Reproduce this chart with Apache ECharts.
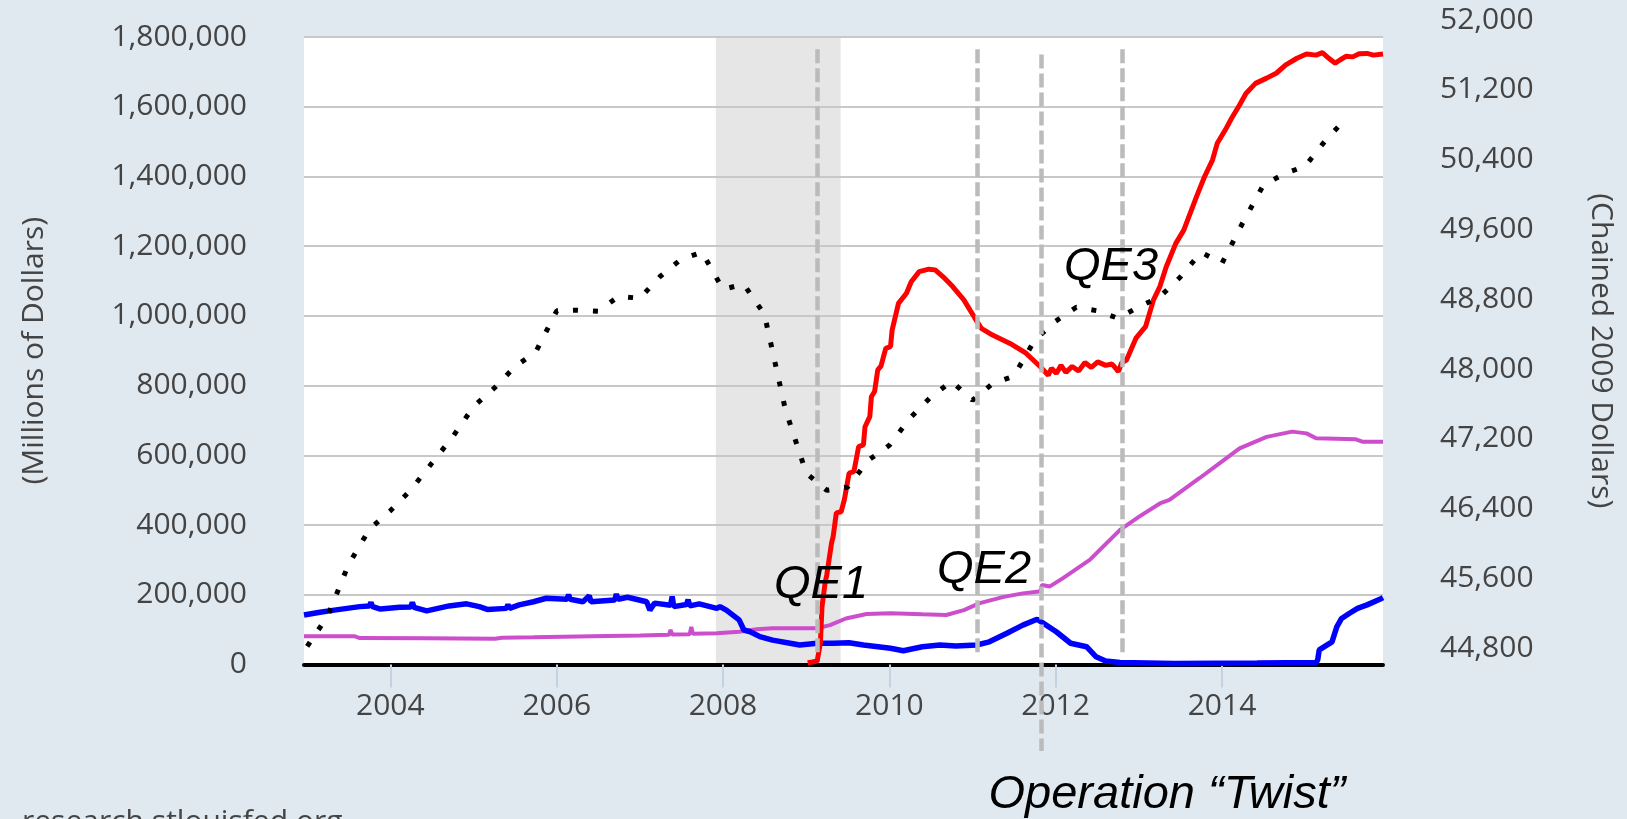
<!DOCTYPE html>
<html>
<head>
<meta charset="utf-8">
<script src="https://cdn.jsdelivr.net/npm/echarts@6/dist/echarts.min.js"></script>
<style>
html,body{margin:0;padding:0;background:#e1e9f0;}
#chart{width:1627px;height:819px;}
</style>
</head>
<body>
<div id="chart"></div>
<script>
// ---------- DATA ----------
const xTickLabels = ['2004', '2006', '2008', '2010', '2012', '2014'];
const leftTicks = [0, 200000, 400000, 600000, 800000, 1000000, 1200000, 1400000, 1600000, 1800000];
const rightTicks = [44800, 45600, 46400, 47200, 48000, 48800, 49600, 50400, 51200, 52000];

// Red series (Millions of Dollars, weekly)
const redSeries = [
  ['2009-01-07', 5000], ['2009-01-28', 7000], ['2009-02-18', 10000], ['2009-03-04', 62000],
  ['2009-03-11', 165000], ['2009-03-25', 236000], ['2009-04-01', 257000], ['2009-04-08', 262000],
  ['2009-04-22', 348000], ['2009-04-29', 367000], ['2009-05-06', 370000], ['2009-05-13', 435000],
  ['2009-06-03', 438000], ['2009-06-17', 472000], ['2009-07-08', 549000], ['2009-07-29', 553000],
  ['2009-08-19', 625000], ['2009-09-09', 630000], ['2009-09-16', 682000], ['2009-10-07', 711000],
  ['2009-10-14', 768000], ['2009-10-28', 783000], ['2009-11-11', 845000], ['2009-11-25', 856000],
  ['2009-12-16', 907000], ['2010-01-06', 912000], ['2010-01-13', 959000], ['2010-02-10', 1036000],
  ['2010-03-17', 1065000], ['2010-04-07', 1098000], ['2010-05-12', 1127000], ['2010-06-23', 1134000],
  ['2010-07-21', 1132000], ['2010-08-25', 1112000], ['2010-10-06', 1084000], ['2010-11-24', 1046000],
  ['2011-01-12', 993000], ['2011-02-09', 964000], ['2011-03-30', 945000], ['2011-06-15', 921000],
  ['2011-08-24', 893000], ['2011-10-26', 854000], ['2011-11-30', 830000], ['2011-12-14', 850000],
  ['2012-01-04', 835000], ['2012-01-25', 858000], ['2012-02-15', 838000], ['2012-03-14', 855000],
  ['2012-04-11', 842000], ['2012-05-09', 866000], ['2012-06-06', 852000], ['2012-07-04', 868000],
  ['2012-08-08', 858000], ['2012-09-05', 862000], ['2012-10-03', 840000], ['2012-10-17', 865000],
  ['2012-11-07', 873000], ['2012-12-19', 936000], ['2013-01-30', 969000], ['2013-03-06', 1046000],
  ['2013-04-03', 1084000], ['2013-05-01', 1141000], ['2013-06-12', 1208000], ['2013-07-17', 1246000],
  ['2013-08-14', 1294000], ['2013-09-11', 1342000], ['2013-10-16', 1399000], ['2013-11-20', 1447000],
  ['2013-12-11', 1495000], ['2014-01-15', 1533000], ['2014-02-12', 1567000], ['2014-03-19', 1605000],
  ['2014-04-16', 1638000], ['2014-05-28', 1667000], ['2014-07-16', 1682000], ['2014-08-27', 1696000],
  ['2014-10-08', 1720000], ['2014-11-26', 1739000], ['2015-01-07', 1751000], ['2015-02-18', 1748000],
  ['2015-03-18', 1755000], ['2015-04-15', 1739000], ['2015-05-13', 1725000], ['2015-06-03', 1734000],
  ['2015-07-01', 1745000], ['2015-07-29', 1743000], ['2015-08-26', 1752000], ['2015-09-30', 1753000],
  ['2015-10-28', 1748000], ['2015-12-09', 1751000]
];

// Blue series (Millions of Dollars)
const blueSeries = [
  ['2002-12-18', 142000], ['2003-02-26', 150000], ['2003-04-30', 156000], ['2003-08-20', 166000],
  ['2003-10-01', 168000], ['2003-10-08', 178000], ['2003-10-15', 166000], ['2003-11-19', 159000],
  ['2004-02-11', 164000], ['2004-03-31', 165000], ['2004-04-07', 178000], ['2004-04-14', 164000],
  ['2004-06-09', 154000], ['2004-09-15', 168000], ['2004-12-01', 174000], ['2005-01-26', 166000],
  ['2005-03-02', 158000], ['2005-05-25', 161000], ['2005-06-01', 172000], ['2005-06-08', 161000],
  ['2005-07-20', 171000], ['2005-09-21', 180000], ['2005-11-16', 190000], ['2006-02-15', 187000],
  ['2006-02-22', 200000], ['2006-03-01', 187000], ['2006-04-26', 180000], ['2006-05-24', 197000],
  ['2006-05-31', 180000], ['2006-09-13', 185000], ['2006-09-20', 202000], ['2006-09-27', 187000],
  ['2006-11-08', 193000], ['2007-01-31', 180000], ['2007-02-14', 156000], ['2007-03-07', 176000],
  ['2007-05-16', 170000], ['2007-05-23', 195000], ['2007-05-30', 166000], ['2007-07-25', 172000],
  ['2007-08-01', 186000], ['2007-08-08', 168000], ['2007-09-19', 174000], ['2007-12-05', 161000],
  ['2007-12-19', 166000], ['2008-01-16', 156000], ['2008-03-12', 128000], ['2008-04-02', 99000],
  ['2008-04-30', 94000], ['2008-06-11', 80000], ['2008-08-06', 70000], ['2008-10-22', 61000],
  ['2008-12-03', 56000], ['2009-02-18', 61000], ['2009-04-29', 61000], ['2009-07-08', 62500],
  ['2009-09-09', 56000], ['2010-01-06', 46500], ['2010-03-03', 39600], ['2010-05-26', 51000],
  ['2010-08-11', 56000], ['2010-10-20', 53000], ['2011-01-19', 56000], ['2011-03-16', 65000],
  ['2011-06-01', 89500], ['2011-08-10', 113000], ['2011-10-12', 130000], ['2011-11-09', 118000],
  ['2012-01-04', 94000], ['2012-03-07', 61000], ['2012-05-16', 51000], ['2012-06-27', 22000],
  ['2012-08-08', 10000], ['2012-10-10', 6000], ['2013-06-05', 3000], ['2014-06-04', 4000],
  ['2015-02-18', 6000], ['2015-02-25', 13000], ['2015-03-04', 42000], ['2015-04-29', 65000],
  ['2015-05-20', 108000], ['2015-06-10', 132000], ['2015-07-15', 147000], ['2015-08-19', 161000],
  ['2015-09-30', 171000], ['2015-11-25', 187000], ['2015-12-09', 192000]
];

// Magenta series (Millions of Dollars)
const pinkSeries = [
  ['2002-12-18', 81000], ['2003-07-30', 81000], ['2003-08-20', 76000], ['2004-06-02', 75000],
  ['2005-04-06', 74000], ['2005-05-04', 77000], ['2005-09-21', 78000], ['2006-06-07', 81000],
  ['2007-01-03', 83000], ['2007-05-09', 85000], ['2007-05-16', 99000], ['2007-05-23', 86000],
  ['2007-08-08', 87000], ['2007-08-15', 108000], ['2007-08-22', 88000], ['2007-12-05', 89500],
  ['2008-03-12', 94000], ['2008-05-28', 101000], ['2008-08-06', 104000], ['2009-02-18', 104000],
  ['2009-04-15', 113000], ['2009-06-24', 132000], ['2009-09-23', 145000], ['2010-01-06', 147000],
  ['2010-05-26', 144000], ['2010-09-08', 142000], ['2010-11-24', 156000], ['2011-02-02', 176000],
  ['2011-05-18', 194000], ['2011-08-10', 204000], ['2011-10-12', 209000], ['2011-10-26', 210000],
  ['2011-11-02', 228000], ['2011-12-07', 224000], ['2012-02-01', 247000], ['2012-05-30', 300000],
  ['2012-10-10', 386000], ['2013-01-02', 424000], ['2013-04-03', 462000], ['2013-05-15', 472000],
  ['2013-09-25', 535000], ['2013-12-25', 579000], ['2014-03-19', 620000], ['2014-07-16', 653000],
  ['2014-11-05', 668000], ['2015-01-07', 663000], ['2015-02-18', 649000], ['2015-08-12', 646000],
  ['2015-09-09', 639000], ['2015-12-09', 639000]
];

// Real GDP per capita (Chained 2009 Dollars), quarterly
const gdpDates = [
  '2003-01-01','2003-04-01','2003-07-01','2003-10-01','2004-01-01','2004-04-01','2004-07-01','2004-10-01',
  '2005-01-01','2005-04-01','2005-07-01','2005-10-01','2006-01-01','2006-04-01','2006-07-01','2006-10-01',
  '2007-01-01','2007-04-01','2007-07-01','2007-10-01','2008-01-01','2008-04-01','2008-07-01','2008-10-01',
  '2009-01-01','2009-04-01','2009-07-01','2009-10-01','2010-01-01','2010-04-01','2010-07-01','2010-10-01',
  '2011-01-01','2011-04-01','2011-07-01','2011-10-01','2012-01-01','2012-04-01','2012-07-01','2012-10-01',
  '2013-01-01','2013-04-01','2013-07-01','2013-10-01','2014-01-01','2014-04-01','2014-07-01','2014-10-01',
  '2015-01-01','2015-04-01','2015-07-01'
];
const gdpValues = [
  44823, 45169, 45756, 46163, 46376, 46618, 46920, 47223,
  47571, 47780, 48026, 48197, 48667, 48674, 48662, 48834,
  48811, 49063, 49258, 49339, 48914, 48972, 48628, 47539,
  46806, 46611, 46645, 46955, 47127, 47436, 47677, 47860,
  47643, 47837, 47917, 48330, 48548, 48708, 48668, 48582,
  48714, 48823, 49052, 49339, 49213, 49671, 50106, 50238,
  50324, 50622, 50874
];

// Recession and policy markers
const recession = ['2007-12-01', '2009-06-01'];
const policyLines = [
  { date: '2009-02-19', top: 1765000, bottom: 27000 },   // QE1
  { date: '2011-01-24', top: 1765000, bottom: 27000 },   // QE2
  { date: '2011-10-31', top: 1750000, bottom: -248000 }, // Operation Twist
  { date: '2012-10-18', top: 1765000, bottom: 27000 }    // QE3
];
const xRange = ['2002-12-18', '2015-12-09'];

// ---------- HELPERS ----------
function ts(s) { const p = s.split('-').map(Number); return Date.UTC(p[0], p[1] - 1, p[2]); }
function commas(v) { return String(v).replace(/\B(?=(\d{3})+(?!\d))/g, ','); }
const toPts = arr => arr.map(d => [ts(d[0]), d[1]]);

const FONT = '"Open Sans", "DejaVu Sans", sans-serif';
const TXT = '#444444';
const xMin = ts(xRange[0]), xMax = ts(xRange[1]);
const tickVals = xTickLabels.map(y => ts(y + '-01-01'));
const ANN = 'italic 47px "Liberation Sans", Arial, sans-serif';

const chart = echarts.init(document.getElementById('chart'), null, { renderer: 'canvas' });

const option = {
  animation: false,
  backgroundColor: '#e1e9f0',
  textStyle: { fontFamily: FONT },
  grid: [
    { left: 304, right: 244, top: 37, bottom: 154.5, show: true, backgroundColor: '#ffffff', borderWidth: 0, z: 0 },
    { left: 304, right: 244, top: 20, bottom: 170.7, show: false },
    // same scale as grid 0, extended below the axis for the policy marker lines
    { left: 304, right: 244, top: 37, bottom: 67, show: false }
  ],
  xAxis: [
    {
      type: 'value', gridIndex: 0, min: xMin, max: xMax, z: 2,
      axisLine: { show: true, onZero: false, lineStyle: { color: '#000000', width: 4 } },
      axisTick: { show: true, length: 23, lineStyle: { color: '#c3d2e1', width: 2 }, customValues: tickVals },
      axisLabel: {
        show: true, customValues: tickVals, margin: 27, fontSize: 30, color: TXT, fontFamily: FONT,
        formatter: v => String(new Date(v).getUTCFullYear())
      },
      splitLine: { show: false }
    },
    { type: 'value', gridIndex: 1, min: xMin, max: xMax, show: false, splitLine: { show: false } },
    { type: 'value', gridIndex: 2, min: xMin, max: xMax, show: false, splitLine: { show: false } }
  ],
  yAxis: [
    {
      type: 'value', gridIndex: 0, min: leftTicks[0], max: leftTicks[leftTicks.length - 1],
      interval: leftTicks[1] - leftTicks[0], z: 2,
      name: '(Millions of Dollars)', nameLocation: 'middle', nameRotate: 90, nameGap: 255,
      nameTextStyle: { fontSize: 30, color: TXT, fontFamily: FONT },
      axisLine: { show: false }, axisTick: { show: false },
      axisLabel: { margin: 57, fontSize: 30, color: TXT, fontFamily: FONT, formatter: v => commas(v) },
      splitLine: { show: true, lineStyle: { color: '#c8c8c8', width: 2 } }
    },
    {
      type: 'value', gridIndex: 1, position: 'right', min: rightTicks[0], max: rightTicks[rightTicks.length - 1],
      interval: rightTicks[1] - rightTicks[0],
      axisLine: { show: false }, axisTick: { show: false }, splitLine: { show: false },
      axisLabel: { margin: 57, fontSize: 30, color: TXT, fontFamily: FONT, formatter: v => commas(v) }
    },
    {
      type: 'value', gridIndex: 0, position: 'right', min: 0, max: 1,
      name: '(Chained 2009 Dollars)', nameLocation: 'middle', nameRotate: -90, nameGap: 203,
      nameTextStyle: { fontSize: 30, color: TXT, fontFamily: FONT },
      axisLine: { show: false }, axisTick: { show: false }, axisLabel: { show: false }, splitLine: { show: false }
    },
    {
      type: 'value', gridIndex: 2, min: -251000, max: 1800000, show: false,
      axisLine: { show: false }, axisTick: { show: false }, axisLabel: { show: false }, splitLine: { show: false }
    }
  ],
  series: [
    {
      name: 'recession', type: 'line', xAxisIndex: 0, yAxisIndex: 0, data: [], z: 1, silent: true,
      markArea: {
        silent: true, itemStyle: { color: '#e6e6e6' },
        data: [[{ xAxis: ts(recession[0]) }, { xAxis: ts(recession[1]) }]]
      }
    },
    {
      name: 'policy', type: 'line', xAxisIndex: 2, yAxisIndex: 3, data: [], z: 3, silent: true,
      markLine: {
        silent: true, symbol: ['none', 'none'], label: { show: false },
        lineStyle: { color: '#bbbbbb', width: 4.5, type: [14, 5] },
        data: policyLines.map(p => [{ coord: [ts(p.date), p.top] }, { coord: [ts(p.date), p.bottom] }])
      }
    },
    {
      name: 'magenta', type: 'line', xAxisIndex: 0, yAxisIndex: 0, z: 4, showSymbol: false, symbol: 'none',
      data: toPts(pinkSeries), lineStyle: { color: '#cc4ecc', width: 4 }
    },
    {
      name: 'blue', type: 'line', xAxisIndex: 0, yAxisIndex: 0, z: 4, showSymbol: false, symbol: 'none',
      data: toPts(blueSeries), lineStyle: { color: '#0000ff', width: 5.5 }
    },
    {
      name: 'red', type: 'line', xAxisIndex: 0, yAxisIndex: 0, z: 4, showSymbol: false, symbol: 'none',
      data: toPts(redSeries), lineStyle: { color: '#ff0000', width: 5 }
    },
    {
      name: 'gdp', type: 'line', xAxisIndex: 1, yAxisIndex: 1, z: 4, clip: false, showSymbol: false, symbol: 'none',
      data: gdpDates.map((d, i) => [ts(d), gdpValues[i]]),
      lineStyle: { color: '#000000', width: 5, type: [5, 15], cap: 'butt' }
    }
  ],
  graphic: [
    { type: 'text', x: 821, y: 585, z: 10, style: { text: 'QE1', font: ANN, fill: '#000', align: 'center', verticalAlign: 'middle', textAlign: 'center', textVerticalAlign: 'middle' } },
    { type: 'text', x: 984, y: 570, z: 10, style: { text: 'QE2', font: ANN, fill: '#000', align: 'center', verticalAlign: 'middle', textAlign: 'center', textVerticalAlign: 'middle' } },
    { type: 'text', x: 1111, y: 267, z: 10, style: { text: 'QE3', font: ANN, fill: '#000', align: 'center', verticalAlign: 'middle', textAlign: 'center', textVerticalAlign: 'middle' } },
    { type: 'text', x: 1167, y: 795, z: 10, style: { text: 'Operation \u201CTwist\u201D', font: ANN, fill: '#000', align: 'center', verticalAlign: 'middle', textAlign: 'center', textVerticalAlign: 'middle' } },
    { type: 'text', x: 22, y: 822, z: 10, style: { text: 'research.stlouisfed.org', font: '30px "Open Sans", sans-serif', fill: '#444', align: 'left', verticalAlign: 'middle', textAlign: 'left', textVerticalAlign: 'middle' } }
  ]
};
chart.setOption(option);
</script>
</body>
</html>
